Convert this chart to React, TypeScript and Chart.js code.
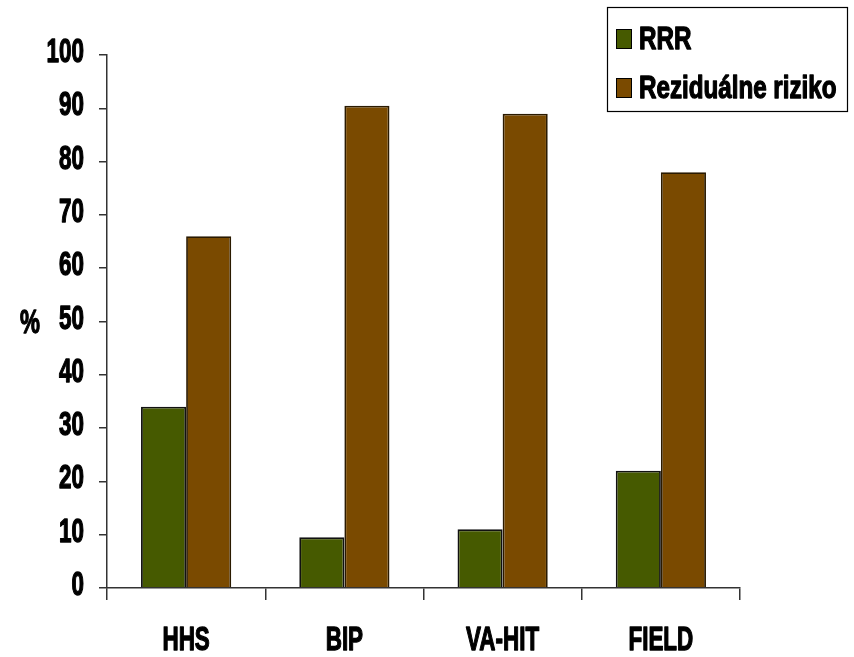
import React, { useEffect, useRef } from "react";
import { Chart, registerables } from "chart.js";

Chart.register(...registerables);

const categories = ["HHS", "BIP", "VA-HIT", "FIELD"];
const rrrValues = [34, 9.5, 11, 22];
const residualValues = [66, 90.5, 89, 78];
const seriesLabels = ["RRR", "Reziduálne riziko"];
const seriesColors = ["#465a00", "#7a4a00"];
const axisTitle = "%";

const FONT = '"Liberation Sans", Arial, sans-serif';
const AXIS_FONT_SIZE = 33;
const AXIS_SQUEEZE = 0.68;
const LEGEND_FONT_SIZE = 31;
const LEGEND_SQUEEZE = 0.78;

// Draws heavy, horizontally condensed text (narrow bold face look)
function narrowText(
  ctx: CanvasRenderingContext2D,
  text: string,
  x: number,
  y: number,
  size: number,
  squeeze: number,
  align: CanvasTextAlign
) {
  ctx.save();
  ctx.font = `bold ${size}px ${FONT}`;
  ctx.fillStyle = "#000";
  ctx.strokeStyle = "#000";
  ctx.lineWidth = 1.3;
  ctx.lineJoin = "round";
  ctx.textAlign = align;
  ctx.textBaseline = "middle";
  ctx.translate(x, y);
  ctx.scale(squeeze, 1);
  ctx.fillText(text, 0, 0);
  ctx.strokeText(text, 0, 0);
  ctx.restore();
}

// Tick labels for both axes plus the "%" caption
const axisLabels = {
  id: "axisLabels",
  afterDraw(chart: any) {
    const ctx = chart.ctx;
    const xs = chart.scales.x;
    const ys = chart.scales.y;
    ys.ticks.forEach((t: any, i: number) => {
      const py = ys.getPixelForTick(i);
      narrowText(ctx, String(t.value), 84, py - 2, AXIS_FONT_SIZE, AXIS_SQUEEZE, "right");
    });
    chart.data.labels.forEach((lab: string, i: number) => {
      const px = xs.getPixelForValue(i);
      narrowText(ctx, lab, px, 641, AXIS_FONT_SIZE, AXIS_SQUEEZE, "center");
    });
    narrowText(ctx, axisTitle, 30, 324, AXIS_FONT_SIZE, AXIS_SQUEEZE, "center");
  },
};

// Boxed legend in the upper-right corner
const boxedLegend = {
  id: "boxedLegend",
  afterDraw(chart: any) {
    const ctx = chart.ctx;
    const x = 607, y = 7, w = 240, h = 104;
    ctx.save();
    ctx.fillStyle = "#ffffff";
    ctx.fillRect(x, y, w, h);
    ctx.strokeStyle = "#000000";
    ctx.lineWidth = 1.2;
    ctx.strokeRect(x + 0.5, y + 0.5, w, h);
    chart.data.datasets.forEach((ds: any, i: number) => {
      const cy = 39 + i * 49;
      ctx.fillStyle = ds.backgroundColor;
      ctx.fillRect(616, cy - 10, 16, 20);
      ctx.strokeStyle = "#000";
      ctx.lineWidth = 1;
      ctx.strokeRect(616.5, cy - 9.5, 15, 19);
      narrowText(ctx, ds.label, 639, cy + 1, LEGEND_FONT_SIZE, LEGEND_SQUEEZE, "left");
    });
    ctx.restore();
  },
};

export default function App() {
  const ref = useRef<HTMLCanvasElement>(null);

  useEffect(() => {
    if (!ref.current) return;
    const chart = new Chart(ref.current, {
      type: "bar",
      data: {
        labels: categories,
        datasets: [
          {
            label: seriesLabels[0],
            data: rrrValues,
            backgroundColor: seriesColors[0],
            borderColor: "#111",
            borderWidth: 1.8,
          },
          {
            label: seriesLabels[1],
            data: residualValues,
            backgroundColor: seriesColors[1],
            borderColor: "#2a1a00",
            borderWidth: 1.8,
          },
        ],
      },
      options: {
        responsive: false,
        animation: false,
        maintainAspectRatio: false,
        layout: { padding: { top: 55, right: 114, left: 0, bottom: 0 } },
        plugins: {
          legend: { display: false },
          tooltip: { enabled: false },
        },
        datasets: {
          bar: { categoryPercentage: 0.57, barPercentage: 1.0 },
        },
        scales: {
          x: {
            grid: {
              offset: true,
              drawOnChartArea: false,
              drawTicks: true,
              tickLength: 12,
              color: "#333",
              lineWidth: 1.5,
            },
            border: { color: "#333", width: 1.5 },
            ticks: { display: false },
            afterFit(scale: any) {
              scale.height = 69;
            },
          },
          y: {
            min: 0,
            max: 100,
            grid: {
              drawOnChartArea: false,
              drawTicks: true,
              tickLength: 8,
              color: "#333",
              lineWidth: 1.5,
            },
            border: { color: "#333", width: 1.5 },
            ticks: { stepSize: 10, display: false },
            afterFit(scale: any) {
              scale.width = 107;
            },
          },
        },
      },
      plugins: [axisLabels, boxedLegend],
    });
    return () => chart.destroy();
  }, []);

  return (
    <div style={{ position: "fixed", left: 0, top: 0, width: 854, height: 657, background: "#fff" }}>
      <canvas ref={ref} width={854} height={657} style={{ display: "block" }} />
    </div>
  );
}
